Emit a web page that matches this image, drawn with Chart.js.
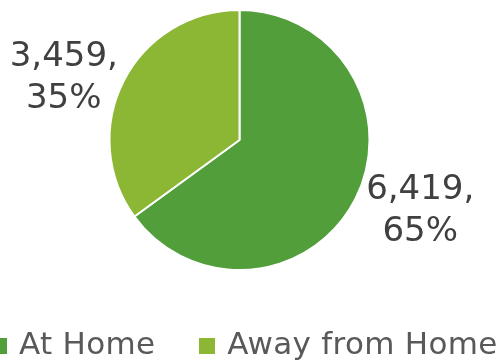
<!DOCTYPE html>
<html>
<head>
<meta charset="utf-8">
<script src="https://cdn.jsdelivr.net/npm/chart.js@4.4.1/dist/chart.umd.min.js"></script>
<style>
  body { margin: 0; background: #fff; overflow: hidden; }
  #wrap { position: relative; width: 503px; height: 363px; overflow: hidden; }
  #legend { position: absolute; left: -9px; top: 325px; white-space: nowrap; }
</style>
</head>
<body>
<div id="wrap">
  <canvas id="myChart"></canvas>
  <div id="legend"></div>
</div>
<script>
const labels = ['At Home', 'Away from Home'];
const meals = [6419, 3459];
const colors = ['rgb(82, 158, 58)', 'rgb(139, 183, 52)'];

const getOrCreateLegendList = () => {
  const legendContainer = document.getElementById('legend');
  let listContainer = legendContainer.querySelector('ul');
  if (!listContainer) {
    listContainer = document.createElement('ul');
    listContainer.style.display = 'flex';
    listContainer.style.flexDirection = 'row';
    listContainer.style.margin = 0;
    listContainer.style.padding = 0;
    listContainer.style.listStyle = 'none';
    legendContainer.appendChild(listContainer);
  }
  return listContainer;
};

const htmlLegendPlugin = {
  id: 'htmlLegend',
  afterUpdate(chart) {
    const ul = getOrCreateLegendList();
    while (ul.firstChild) {
      ul.firstChild.remove();
    }
    const items = chart.options.plugins.legend.labels.generateLabels(chart);
    items.forEach((item, i) => {
      const li = document.createElement('li');
      li.style.display = 'flex';
      li.style.flexDirection = 'row';
      li.style.alignItems = 'center';
      li.style.marginLeft = i === 0 ? '0' : '44px';

      // colour box
      const boxSpan = document.createElement('span');
      boxSpan.style.background = item.fillStyle;
      boxSpan.style.display = 'inline-block';
      boxSpan.style.width = '16px';
      boxSpan.style.height = '16px';
      boxSpan.style.marginRight = '12px';
      boxSpan.style.position = 'relative';
      boxSpan.style.top = '3px';

      const textContainer = document.createElement('p');
      textContainer.style.color = '#595959';
      textContainer.style.margin = 0;
      textContainer.style.padding = 0;
      textContainer.style.font = '31px "DejaVu Sans"';
      textContainer.style.letterSpacing = '0.3px';
      textContainer.appendChild(document.createTextNode(item.text));

      li.appendChild(boxSpan);
      li.appendChild(textContainer);
      ul.appendChild(li);
    });
  },
};

// value + share labels outside each slice
const sliceLabels = {
  id: 'sliceLabels',
  afterDatasetsDraw(chart) {
    const { ctx } = chart;
    const data = chart.data.datasets[0].data;
    const total = data.reduce((a, b) => a + b, 0);
    const meta = chart.getDatasetMeta(0);
    ctx.save();
    ctx.font = '34px "DejaVu Sans"';
    ctx.fillStyle = '#404040';
    ctx.textAlign = 'center';
    ctx.textBaseline = 'middle';
    meta.data.forEach((arc, i) => {
      const p = arc.getProps(['x', 'y', 'startAngle', 'endAngle', 'outerRadius'], true);
      const mid = (p.startAngle + p.endAngle) / 2;
      const right = Math.cos(mid) >= 0;
      const lower = Math.sin(mid) > 0;
      const ax = p.x + Math.cos(mid) * p.outerRadius * 1.05 + (right ? 5 : 0);
      const ay = p.y + Math.sin(mid) * p.outerRadius * 1.05 + (lower ? 9 : 0);
      const lines = [
        data[i].toLocaleString('en-US') + ',',
        Math.round(data[i] / total * 100) + '%',
      ];
      const w = Math.max(...lines.map(l => ctx.measureText(l).width));
      const cx = right ? ax + w / 2 : ax - w / 2;
      ctx.fillText(lines[0], cx, ay - 21);
      ctx.fillText(lines[1], cx, ay + 21);
    });
    ctx.restore();
  },
};

const config = {
  type: 'pie',
  data: {
    labels,
    datasets: [{
      data: meals,
      backgroundColor: colors,
      borderColor: '#ffffff',
      borderWidth: 2,
    }],
  },
  options: {
    responsive: true,
    maintainAspectRatio: false,
    animation: false,
    layout: {
      padding: { top: 9, bottom: 92, left: 0, right: 24 },
    },
    plugins: {
      tooltip: { enabled: false },
      legend: { display: false },
      htmlLegend: {},
    },
    events: [],
  },
  plugins: [htmlLegendPlugin, sliceLabels],
};

const myChart = new Chart(document.getElementById('myChart'), config);
</script>
</body>
</html>
